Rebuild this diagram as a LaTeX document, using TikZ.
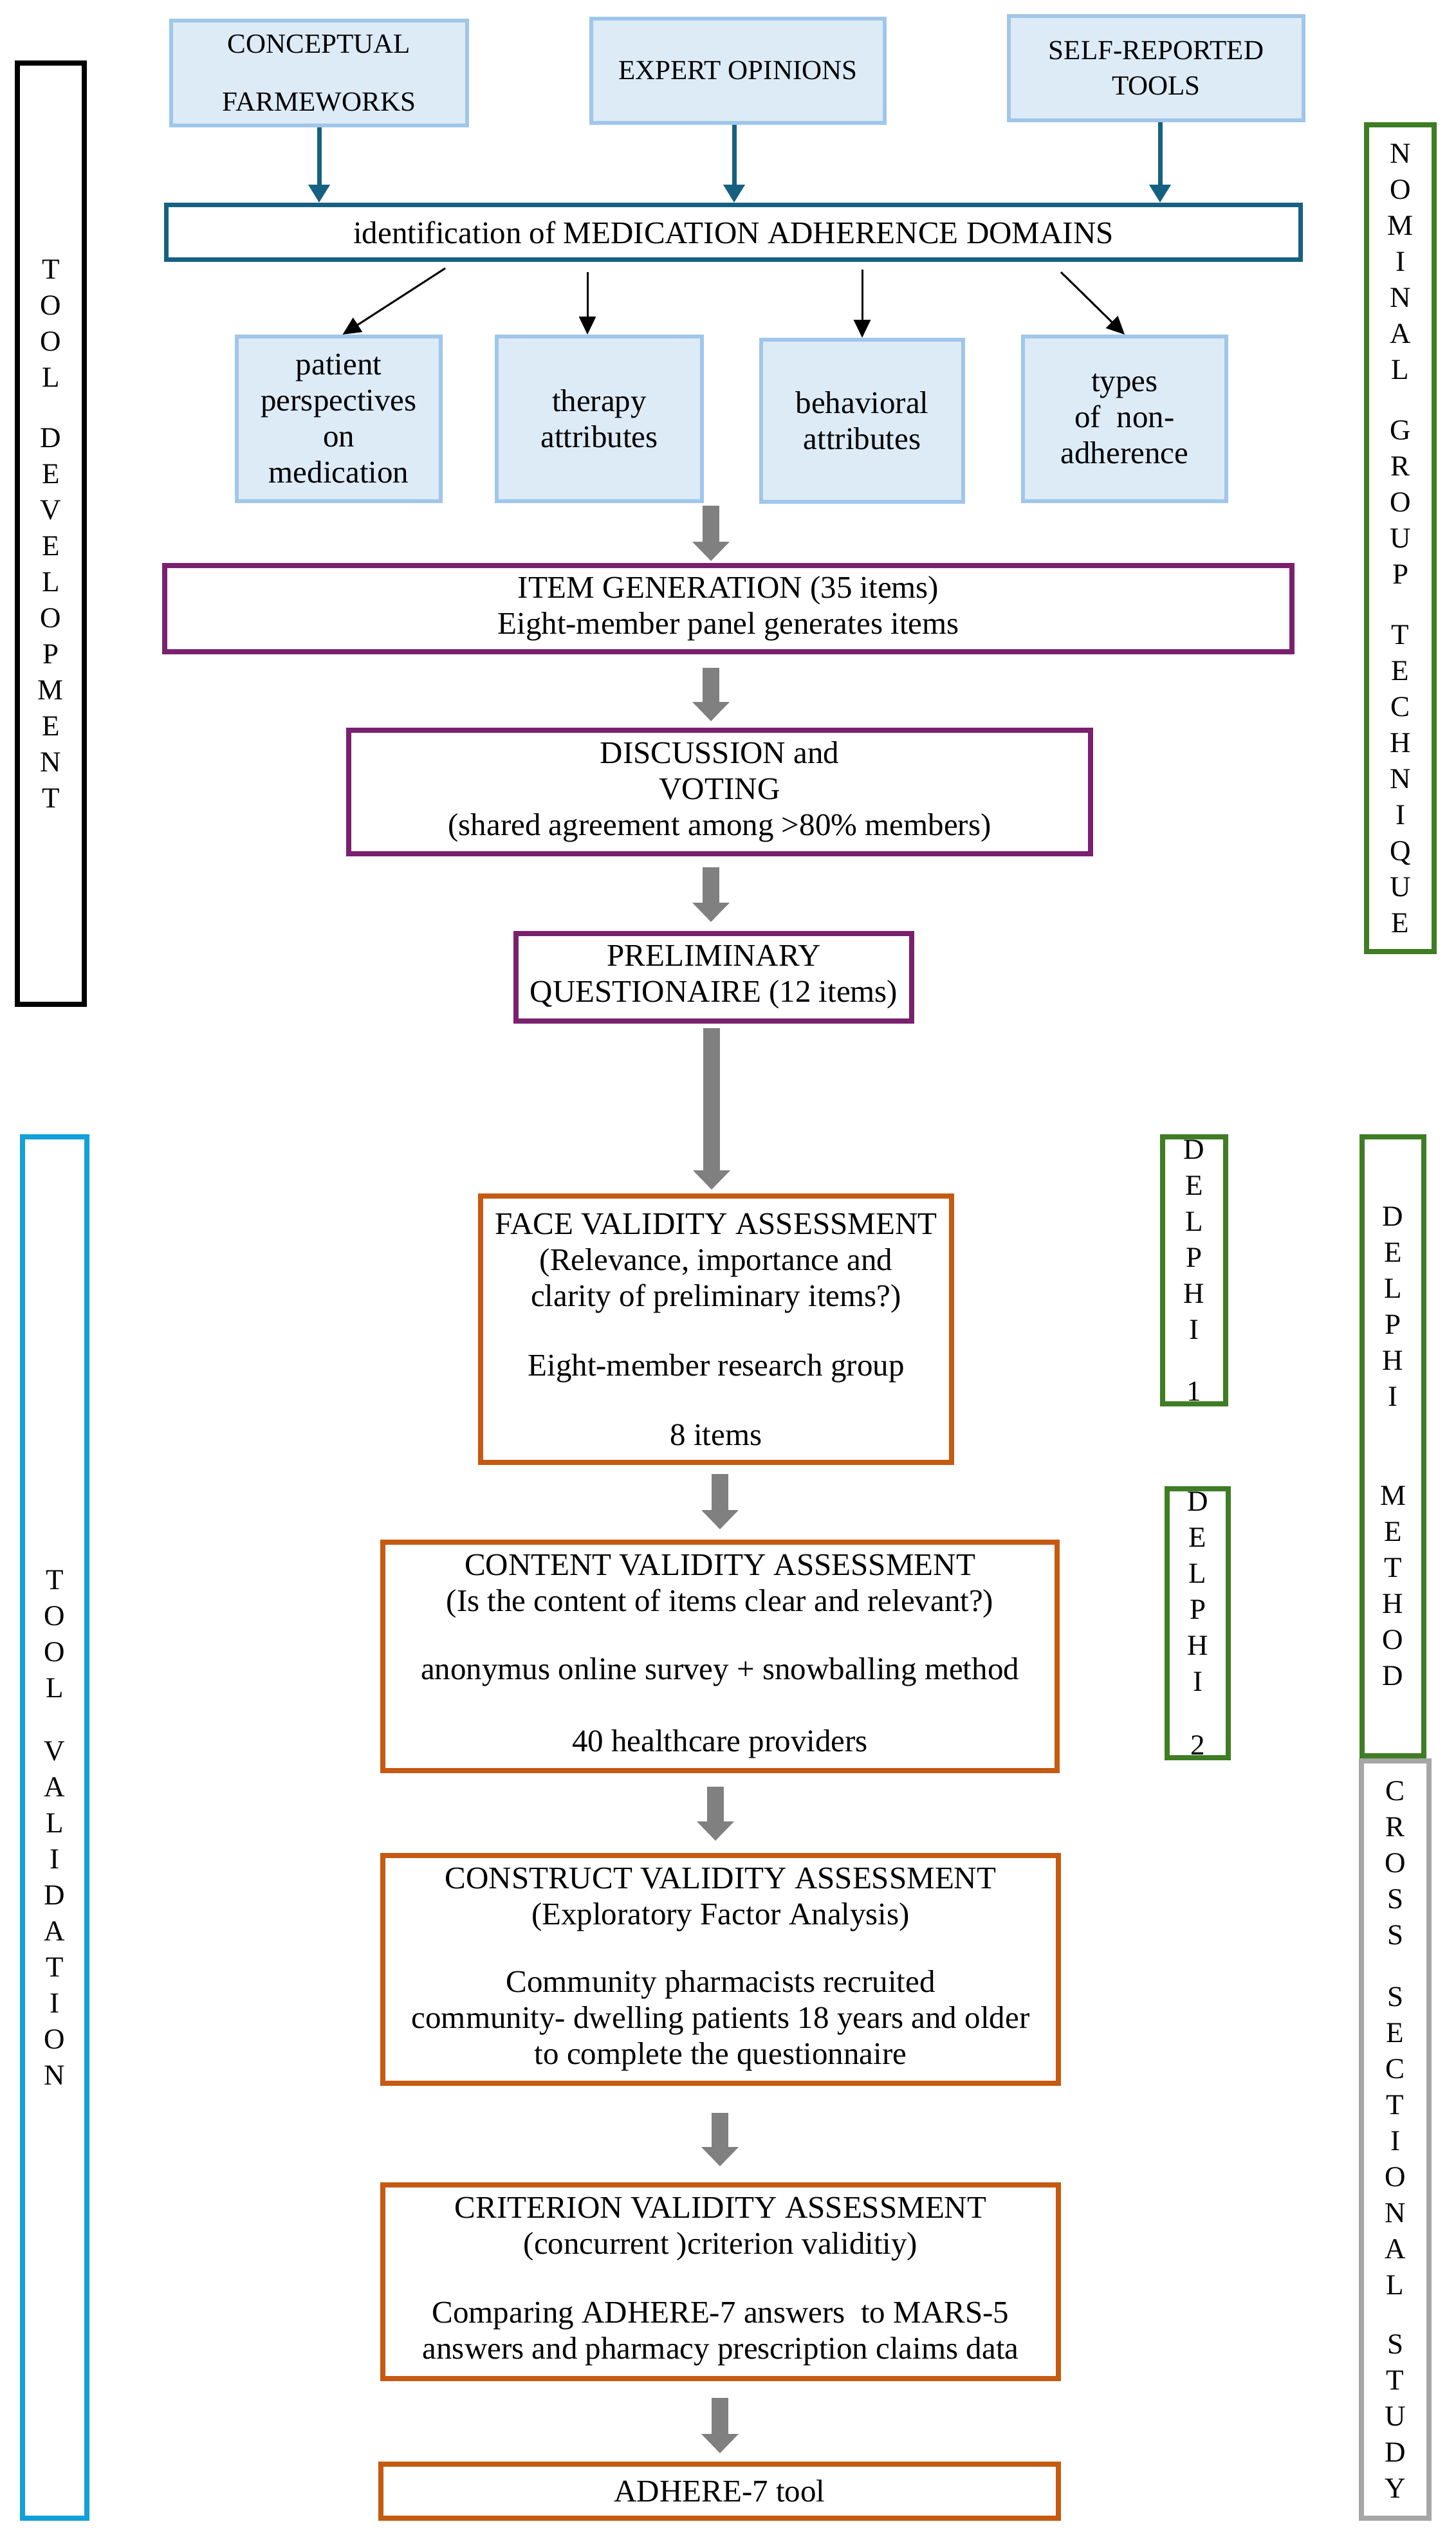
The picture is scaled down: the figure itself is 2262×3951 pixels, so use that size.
\documentclass[tikz,border=0pt]{standalone}
\usepackage{fontspec}
\setmainfont{Liberation Serif}
\usetikzlibrary{arrows.meta}
\definecolor{lbfill}{RGB}{221,235,247}
\definecolor{lbdraw}{RGB}{160,198,234}
\definecolor{domblue}{RGB}{22,96,130}
\definecolor{purp}{RGB}{122,32,110}
\definecolor{orng}{RGB}{197,90,17}
\definecolor{grn}{RGB}{62,125,36}
\definecolor{skyb}{RGB}{18,160,216}
\definecolor{gbox}{RGB}{166,166,166}
\definecolor{garr}{RGB}{128,128,128}
\begin{document}
\begin{tikzpicture}[x=1pt,y=-1pt,
  basebox/.style={draw, rectangle, inner sep=0pt, align=center, font=\fontsize{49}{56}\selectfont},
  topbox/.style={basebox, fill=lbfill, draw=lbdraw, line width=6pt, font=\fontsize{43}{55}\selectfont},
  subbox/.style={basebox, fill=lbfill, draw=lbdraw, line width=6pt},
  purbox/.style={basebox, draw=purp, line width=8pt},
  orbox/.style={basebox, draw=orng, line width=8pt},
  letterbox/.style={basebox, line width=8pt, font=\fontsize{45}{56}\selectfont},
  bluearr/.style={draw=domblue, line width=7pt, -{Triangle[length=28pt,width=32pt]}},
  blkarr/.style={draw=black, line width=3pt, -{Triangle[length=28pt,width=26pt]}},
  bigarr/.style={draw=garr, line width=26pt, -{Triangle[length=30pt,width=56pt]}},
]
\useasboundingbox (0,0) rectangle (2262,3951);

% top sources
\node[topbox, minimum width=460pt, minimum height=163pt] (concept) at (496,113.5) {CONCEPTUAL\\[35pt]FARMEWORKS};
\node[topbox, minimum width=456pt, minimum height=162pt] (expert) at (1147,109.5) {EXPERT OPINIONS};
\node[topbox, minimum width=458pt, minimum height=162pt] (self) at (1797,106) {SELF-REPORTED\\TOOLS};

% domains
\node[basebox, draw=domblue, line width=7pt, minimum width=1763pt, minimum height=85pt] (domain) at (1140,361) {identification of MEDICATION ADHERENCE DOMAINS};

\node[subbox, minimum width=317pt, minimum height=256pt] (patient) at (526.5,651) {patient\\perspectives\\on\\medication};
\node[subbox, minimum width=319pt, minimum height=256pt] (therapy) at (931.5,651) {therapy\\attributes};
\node[subbox, minimum width=314pt, minimum height=252pt] (behav) at (1340,654) {behavioral\\attributes};
\node[subbox, minimum width=316pt, minimum height=256pt] (types) at (1748,651) {types\\of \ non-\\adherence};

% nominal group steps
\node[purbox, minimum width=1752pt, minimum height=134pt] (item) at (1132,946) {ITEM GENERATION (35 items)\\Eight-member panel generates items};
\node[purbox, minimum width=1153pt, minimum height=192pt] (disc) at (1118.5,1231) {DISCUSSION and\\VOTING\\(shared agreement among >80\% members)};
\node[purbox, minimum width=615pt, minimum height=136pt] (prelim) at (1109.5,1519) {PRELIMINARY\\QUESTIONAIRE (12 items)};

% validation steps
\node[orbox, minimum width=732pt, minimum height=414pt] (face) at (1113,2066) {FACE VALIDITY ASSESSMENT\\(Relevance, importance and\\clarity of preliminary items?)\\[52pt]Eight-member research group\\[52pt]8 items};
\node[orbox, minimum width=1048pt, minimum height=355pt] (content) at (1119,2574.5) {CONTENT VALIDITY ASSESSMENT\\(Is the content of items clear and relevant?)\\[50pt]anonymus online survey + snowballing method\\[56pt]40 healthcare providers};
\node[orbox, minimum width=1050pt, minimum height=354pt] (construct) at (1120,3061) {CONSTRUCT VALIDITY ASSESSMENT\\(Exploratory Factor Analysis)\\[49pt]Community pharmacists recruited\\community- dwelling patients 18 years and older\\to complete the questionnaire};
\node[orbox, minimum width=1050pt, minimum height=301pt] (criterion) at (1120,3546.5) {CRITERION VALIDITY ASSESSMENT\\(concurrent )criterion validitiy)\\[51pt]Comparing ADHERE-7 answers \ to MARS-5\\answers and pharmacy prescription claims data};
\node[orbox, minimum width=1053pt, minimum height=84pt] (adhere) at (1118.5,3872) {ADHERE-7 tool};

% side labels
\node[letterbox, draw=black, minimum width=104pt, minimum height=1463pt] (tooldev) at (79,829.5) {T\\O\\O\\L\\[38pt]D\\E\\V\\E\\L\\O\\P\\M\\E\\N\\T};
\node[letterbox, draw=grn, minimum width=105pt, minimum height=1285pt] (nominal) at (2176.5,836.5) {N\\O\\M\\I\\N\\A\\L\\[38pt]G\\R\\O\\U\\P\\[38pt]T\\E\\C\\H\\N\\I\\Q\\U\\E};
\node[letterbox, draw=skyb, minimum width=100pt, minimum height=2147pt] (toolval) at (85,2840.5) {T\\O\\O\\L\\[42pt]V\\A\\L\\I\\D\\A\\T\\I\\O\\N};
\node[letterbox, draw=grn, minimum width=98pt, minimum height=415pt] (delphi1) at (1856,1974.5) {D\\E\\L\\P\\H\\I\\[40pt]1};
\node[letterbox, draw=grn, minimum width=95pt, minimum height=418pt] (delphi2) at (1861.5,2523) {D\\E\\L\\P\\H\\I\\[43pt]2};
\node[letterbox, draw=grn, minimum width=96pt, minimum height=962pt] (delphim) at (2165,2248) {D\\E\\L\\P\\H\\I\\[98pt]M\\E\\T\\H\\O\\D};
\node[letterbox, draw=gbox, minimum width=105pt, minimum height=1177pt] (cross) at (2168.5,3325.5) {C\\R\\O\\S\\S\\[40pt]S\\E\\C\\T\\I\\O\\N\\A\\L\\[36pt]S\\T\\U\\D\\Y};

% blue arrows
\coordinate (e1) at ([xshift=-6pt]expert.south);
\coordinate (s1) at ([xshift=6pt]self.south);
\draw[bluearr] (concept.south) -- (concept.south |- domain.north);
\draw[bluearr] (e1) -- (e1 |- domain.north);
\draw[bluearr] (s1) -- (s1 |- domain.north);

% black arrows
\coordinate (b1) at (692,417);
\coordinate (b2) at (913,423);
\coordinate (b3) at (1340,419);
\coordinate (b4) at (1649,423);
\draw[blkarr] (b1) -- ([xshift=6pt]patient.north);
\draw[blkarr] (b2) -- (b2 |- therapy.north);
\draw[blkarr] (b3) -- (behav.north);
\draw[blkarr] (b4) -- (types.north);

% grey arrows
\coordinate (gx1) at (1105,0);
\coordinate (gx2) at (1106,0);
\coordinate (gx3) at (1119,0);
\coordinate (gx4) at (1112,0);
\draw[bigarr, shorten <=4pt, shorten >=3pt] (gx1 |- patient.south) -- (gx1 |- item.north);
\draw[bigarr, shorten <=21pt, shorten >=10pt] (gx1 |- item.south) -- (gx1 |- disc.north);
\draw[bigarr, shorten <=17pt, shorten >=14pt] (gx1 |- disc.south) -- (gx1 |- prelim.north);
\draw[bigarr, shorten <=7pt, shorten >=6pt] (gx2 |- prelim.south) -- (gx2 |- face.north);
\draw[bigarr, shorten <=14pt, shorten >=16pt] (gx3 |- face.south) -- (gx3 |- content.north);
\draw[bigarr, shorten <=21pt, shorten >=19pt] (gx4 |- content.south) -- (gx4 |- construct.north);
\draw[bigarr, shorten <=42pt, shorten >=25pt] (gx3 |- construct.south) -- (gx3 |- criterion.north);
\draw[bigarr, shorten <=26pt, shorten >=13pt] (gx3 |- criterion.south) -- (gx3 |- adhere.north);
\end{tikzpicture}
\end{document}
